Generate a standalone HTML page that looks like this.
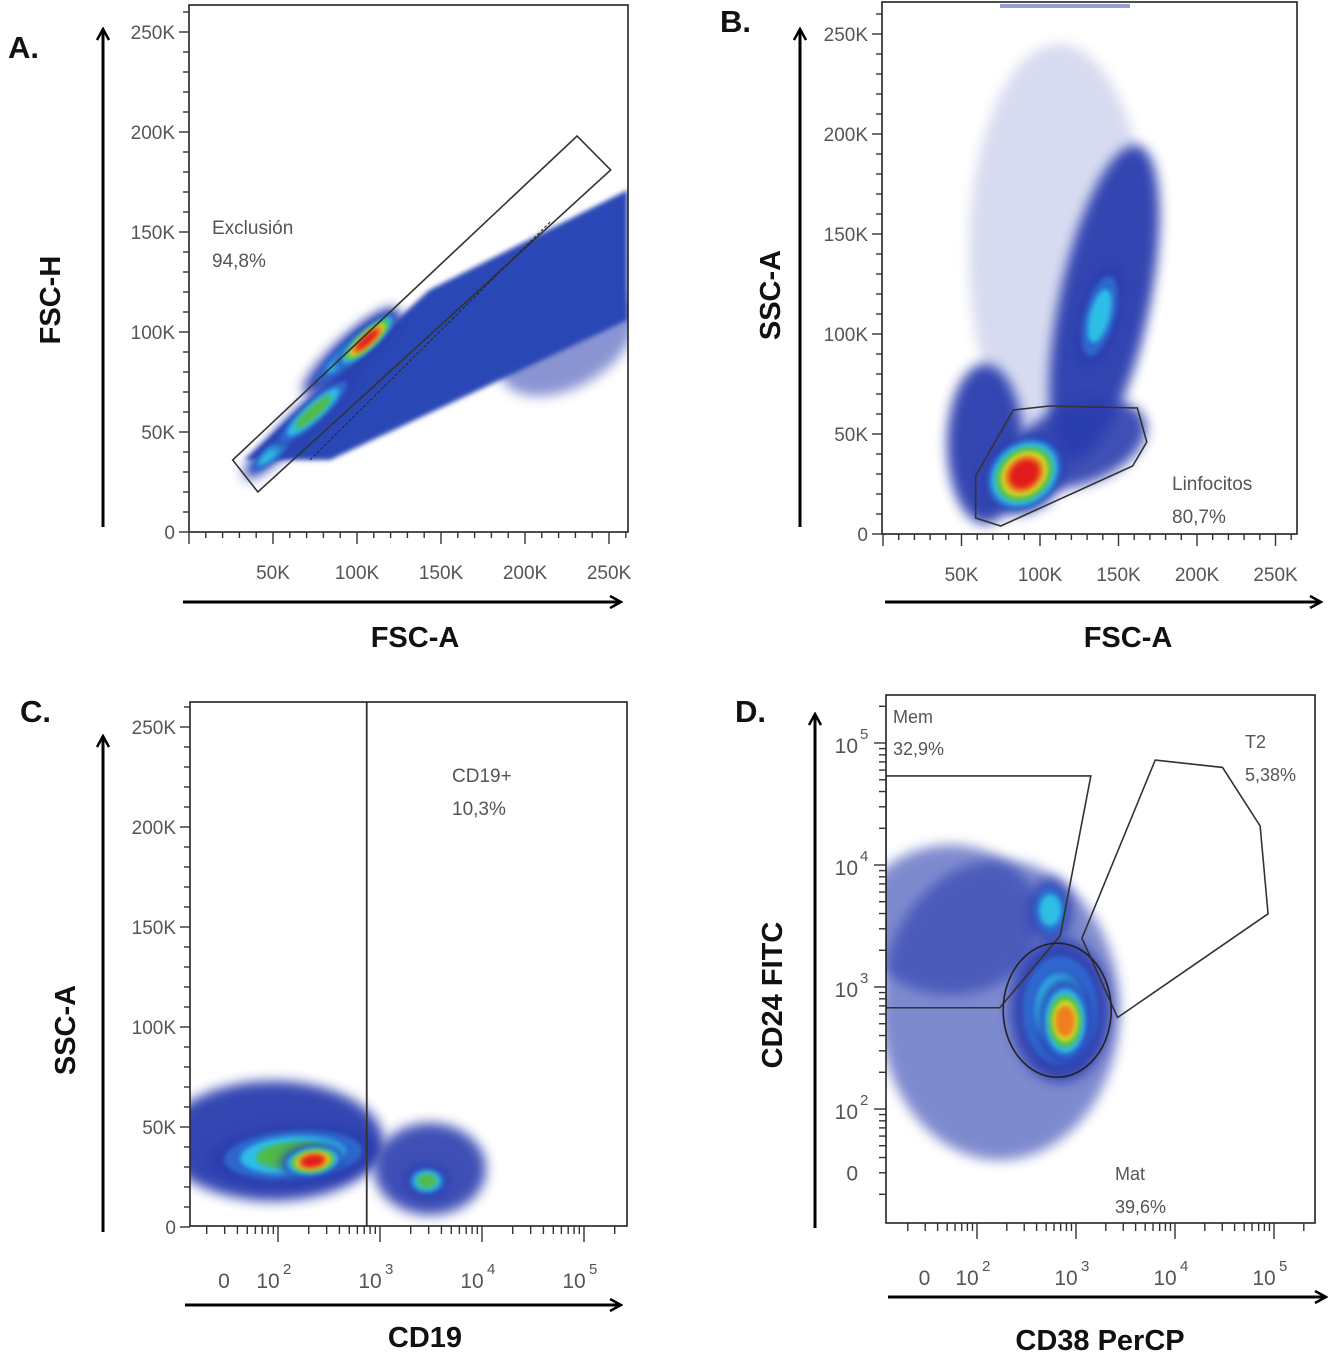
<!DOCTYPE html>
<html><head><meta charset="utf-8"><style>
html,body{margin:0;padding:0;background:#fff;}
svg{display:block;font-family:"Liberation Sans",Arial,sans-serif;}
</style></head><body>
<svg id="fig" width="1334" height="1355" viewBox="0 0 1334 1355" xmlns="http://www.w3.org/2000/svg">
<defs>
<filter id="blur" x="-50%" y="-50%" width="200%" height="200%"><feGaussianBlur stdDeviation="2.5"/></filter>
<filter id="blur2" x="-50%" y="-50%" width="200%" height="200%"><feGaussianBlur stdDeviation="6"/></filter>
<marker id="arr" markerWidth="14" markerHeight="14" refX="11" refY="7" orient="auto" markerUnits="userSpaceOnUse"><path d="M1,1 L12,7 L1,13" fill="none" stroke="#000" stroke-width="2.5"/></marker>
</defs>
</svg>
<script>
// ---------- data ----------
const palette = ['#2a3cae','#2e6ad0','#2fc3e8','#53bb3f','#d8df2c','#f07a1e','#e2161a'];
// Panel A (FSC-A vs FSC-H, K units)
const aBand = [[33,36],[143,121],[261,171],[261,106],[84,36]];
const aClX = [225,106,96,74,50];
const aClY = [95,96,90,60,40];
const aClLevel = [1,7,3,4,3];
const aGate = [[26,36],[231,198],[251,181],[41,20]];
// Panel B (FSC-A vs SSC-A)
const bClX = [112,141,138,65,125,90];
const bClY = [140,116,109,45,45,30];
const bClLevel = [1,1,3,1,1,7];
const bGate = [[59,29],[83,62],[106,64],[162,63],[168,46],[159,34],[75,4],[59,8]];
// Panel C (CD19 log decades vs SSC-A)
const cClX = [1.95,2.15,2.34,3.49,3.46];
const cClY = [43,36,33,29,23];
const cClLevel = [1,4,7,1,4];
const cGateX = 2.87;
// Panel D (CD38 vs CD24 decades)
const dClX = [2.23,1.73,2.84,2.89,2.74];
const dClY = [2.81,3.55,2.81,2.72,3.63];
const dClLevel = [1,1,3,6,3];
const dMem = [[1.08,4.73],[3.15,4.73],[2.84,3.42],[2.23,2.83],[1.08,2.83]];
const dT2 = [[3.80,4.86],[4.48,4.80],[4.86,4.32],[4.94,3.60],[3.42,2.75],[3.06,3.40]];
const dMat = [2.81,2.81];
const linTicks = ['0','50K','100K','150K','200K','250K'];
const logTicks = ['0','10','10','10','10'];
const logExp = ['','2','3','4','5'];

// ---------- helpers ----------
const NS='http://www.w3.org/2000/svg';
const svg=document.getElementById('fig');
function mk(tag,attrs,parent){const e=document.createElementNS(NS,tag);for(const k in attrs)e.setAttribute(k,attrs[k]);(parent||svg).appendChild(e);return e;}
function txt(s,x,y,size,attrs,parent){const t=mk('text',Object.assign({x:x,y:y,'font-size':size,fill:'#555'},attrs||{}),parent);t.textContent=s;return t;}

const A={x:v=>189+v*1.68,y:v=>532-v*2};
const B={x:v=>883+v*1.57,y:v=>534-v*2};
const C={x:d=>278+(d-2)*102,y:v=>1227-v*2};
const D={x:d=>977+(d-2)*99,y:e=>987-(e-3)*122};

const aSz=[[75,45,-30],[42,11,-42],[62,15,-42],[55,13,-42],[38,10,-42]];
const bSz=[[90,210,0],[45,160,12],[20,55,15],[38,80,0],[70,40,-20],[45,36,-40]];
const cSz=[[110,60,0],[85,30,-4],[32,16,-8],[56,46,0],[22,16,0]];
const dSz=[[120,150,0],[90,75,0],[50,72,0],[26,42,0],[22,32,0]];
const aOp=[0.55,1,1,1,1], bOp=[0.18,0.95,1,0.95,0.9,1], cOp=[0.95,1,1,0.9,1], dOp=[0.6,0.6,0.9,1,0.8];

function blob(g,cx,cy,rx,ry,rot,level,opacity){
  for(let i=0;i<level;i++){
    const f=1-0.75*i/level;
    mk('ellipse',{cx:cx,cy:cy,rx:rx*f,ry:ry*f,transform:`rotate(${rot} ${cx} ${cy})`,fill:palette[i],opacity:i==0?opacity:0.95,filter:i==0?'url(#blur2)':'url(#blur)'},g);
  }
}
function drawClusters(g,S,xs,ys,lv,sz,op,skip){
  const idx=xs.map((_,i)=>i).filter(i=>!skip||!skip(i)).sort((a,b)=>lv[a]-lv[b]);
  idx.forEach(i=>blob(g,S.x(xs[i]),S.y(ys[i]),sz[i][0],sz[i][1],sz[i][2],lv[i],op[i]));
}
function panel(name,box){
  const g=mk('g',{});
  
  
  const cp=mk('clipPath',{id:'clip-'+name},g);
  mk('rect',{x:box[0],y:box[1],width:box[2]-box[0],height:box[3]-box[1]},cp);
  const plot=mk('g',{'clip-path':`url(#clip-${name})`},g);
  
  
  return {g,plot,box};
}
function frame(p){
  const b=p.box;
  const r=mk('rect',{x:b[0],y:b[1],width:b[2]-b[0],height:b[3]-b[1],fill:'none',stroke:'#222','stroke-width':1.6},p.g);
  
  
}
function linAxes(p,S){
  const b=p.box;
  for(let k=0;k<=260;k+=10){
    const major=k%50==0;
    const x=S.x(k); if(x>=b[0]-1&&x<=b[2]+1) mk('line',{x1:x,y1:b[3],x2:x,y2:b[3]+(major?12:6),stroke:'#333','stroke-width':1.4},p.g);
    const y=S.y(k); if(y>=b[1]-1&&y<=b[3]+1) mk('line',{x1:b[0],y1:y,x2:b[0]-(major?10:6),y2:y,stroke:'#333','stroke-width':1.4},p.g);
  }
  linTicks.forEach((t,i)=>{
    const v=i*50;
    if(i>0){const tx=txt(t,S.x(v),b[3]+47,19,{'text-anchor':'middle'},p.g);}
    const ty=txt(t,b[0]-14,S.y(v)+7,19,{'text-anchor':'end'},p.g);
    
    
  });
}
function logAxes(p,S,xlabY,doY){
  const b=p.box;
  const zero=1.5;
  for(let d=1.0;d<=5.3;d+=1){
    for(let m=1;m<10;m++){
      const v=d+Math.log10(m); if(v<1.0) continue;
      const x=S.x(v); if(x>=b[0]&&x<=b[2]) mk('line',{x1:x,y1:b[3],x2:x,y2:b[3]+(m==1&&d>=2?16:8),stroke:'#333','stroke-width':1.4},p.g);
      if(doY){const y=S.y(v); if(y>=b[1]&&y<=b[3]) mk('line',{x1:b[0],y1:y,x2:b[0]-(m==1&&d>=2?12:7),y2:y,stroke:'#333','stroke-width':1.4},p.g);}
    }
  }
  logTicks.forEach((t,i)=>{
    const v=i==0?zero:i+1;
    const x=S.x(v)-(i==0?3:10);
    const tx=txt(t,x,xlabY,21,{'text-anchor':'middle'},p.g);
    
    
    if(logExp[i]) txt(logExp[i],x+15,xlabY-14,15,{},p.g);
  });
  return zero;
}
function poly(p,pts,S,name){
  const e=mk('polygon',{points:pts.map(q=>S.x(q[0])+','+S.y(q[1])).join(' '),fill:'none',stroke:'#333','stroke-width':1.6},p.plot);
  
  
}
function bigLabel(s,x,y,rot,name){
  const t=txt(s,x,y,29,{'font-weight':'bold',fill:'#111','text-anchor':'middle',transform:rot?`rotate(-90 ${x} ${y})`:''});
  
  
}
function arrow(x1,y1,x2,y2,name){
  const l=mk('line',{x1,y1,x2,y2,stroke:'#000','stroke-width':3,'marker-end':'url(#arr)'});
  
  
}
function letter(s,x,y){const t=txt(s,x,y,31,{'font-weight':'bold',fill:'#111'});}

// ---------- Panel A ----------
const pA=panel('panel-a',[189,5,628,532]);
blob(pA.plot,A.x(aClX[0]),A.y(aClY[0]),aSz[0][0],aSz[0][1],aSz[0][2],aClLevel[0],aOp[0]);
const band=mk('polygon',{points:aBand.map(q=>A.x(q[0])+','+A.y(q[1])).join(' '),fill:'#2b47b6',filter:'url(#blur)'},pA.plot);


drawClusters(pA.plot,A,aClX,aClY,aClLevel,aSz,aOp,i=>i==0);
poly(pA,aGate,A,'exclusion-gate');
mk('line',{x1:A.x(72),y1:A.y(36),x2:A.x(215),y2:A.y(155),stroke:'#222','stroke-width':1,'stroke-dasharray':'3,2'},pA.plot);
frame(pA);linAxes(pA,A);
txt('Exclusión',212,234,19,{});
txt('94,8%',212,267,19,{});
letter('A.',8,58);arrow(103,527,103,30,'y-axis-arrow');arrow(183,602,620,602,'x-axis-arrow');
bigLabel('FSC-H',60,300,true,'y-axis-title');bigLabel('FSC-A',415,647,false,'x-axis-title');

// ---------- Panel B ----------
const pB=panel('panel-b',[882,2,1297,534]);
drawClusters(pB.plot,B,bClX,bClY,bClLevel,bSz,bOp);
mk('rect',{x:1000,y:4,width:130,height:4,fill:palette[0],opacity:0.5},pB.plot);
poly(pB,bGate,B,'lymphocyte-gate');
frame(pB);linAxes(pB,B);
txt('Linfocitos',1172,490,19,{});
txt('80,7%',1172,523,19,{});
letter('B.',720,32);arrow(800,527,800,30,'y-axis-arrow');arrow(885,602,1320,602,'x-axis-arrow');
bigLabel('SSC-A',780,295,true,'y-axis-title');bigLabel('FSC-A',1128,647,false,'x-axis-title');

// ---------- Panel C ----------
const pC=panel('panel-c',[190,702,627,1226]);
drawClusters(pC.plot,C,cClX,cClY,cClLevel,cSz,cOp);
const gl=mk('line',{x1:C.x(cGateX),y1:702,x2:C.x(cGateX),y2:1226,stroke:'#333','stroke-width':1.8},pC.plot);

frame(pC);
for(let k=0;k<=260;k+=10){const y=C.y(k);if(y>=702)mk('line',{x1:190,y1:y,x2:190-(k%50==0?10:6),y2:y,stroke:'#333','stroke-width':1.4},pC.g);}
linTicks.forEach((t,i)=>{const ty=txt(t,176,C.y(i*50)+7,19,{'text-anchor':'end'},pC.g);});
logAxes(pC,C,1288,false);
txt('CD19+',452,782,19,{});
txt('10,3%',452,815,19,{});
letter('C.',20,722);arrow(103,1232,103,737,'y-axis-arrow');arrow(185,1305,620,1305,'x-axis-arrow');
bigLabel('SSC-A',75,1030,true,'y-axis-title');bigLabel('CD19',425,1347,false,'x-axis-title');

// ---------- Panel D ----------
const pD=panel('panel-d',[886,695,1315,1223]);
drawClusters(pD.plot,D,dClX,dClY,dClLevel,dSz,dOp);
poly(pD,dMem,D,'mem-gate');poly(pD,dT2,D,'t2-gate');
const el=mk('ellipse',{cx:D.x(dMat[0]),cy:D.y(dMat[1]),rx:54,ry:67,fill:'none',stroke:'#222','stroke-width':1.6},pD.plot);

frame(pD);
logAxes(pD,D,1285,true);
['0','10','10','10','10'].forEach((t,i)=>{
  const e=i==0?1.48:i+1;const y=D.y(e)+(i==0?8:10);
  const ty=txt(t,858,y,21,{'text-anchor':'end'});
  if(logExp[i]) txt(logExp[i],860,y-14,15,{});
});
txt('Mem',893,723,18,{});
txt('32,9%',893,755,18,{});
txt('T2',1245,748,18,{});
txt('5,38%',1245,781,18,{});
txt('Mat',1115,1180,18,{});
txt('39,6%',1115,1213,18,{});
letter('D.',735,722);arrow(815,1228,815,715,'y-axis-arrow');arrow(888,1297,1325,1297,'x-axis-arrow');
bigLabel('CD24 FITC',782,995,true,'y-axis-title');bigLabel('CD38 PerCP',1100,1350,false,'x-axis-title');
</script>
</body></html>
